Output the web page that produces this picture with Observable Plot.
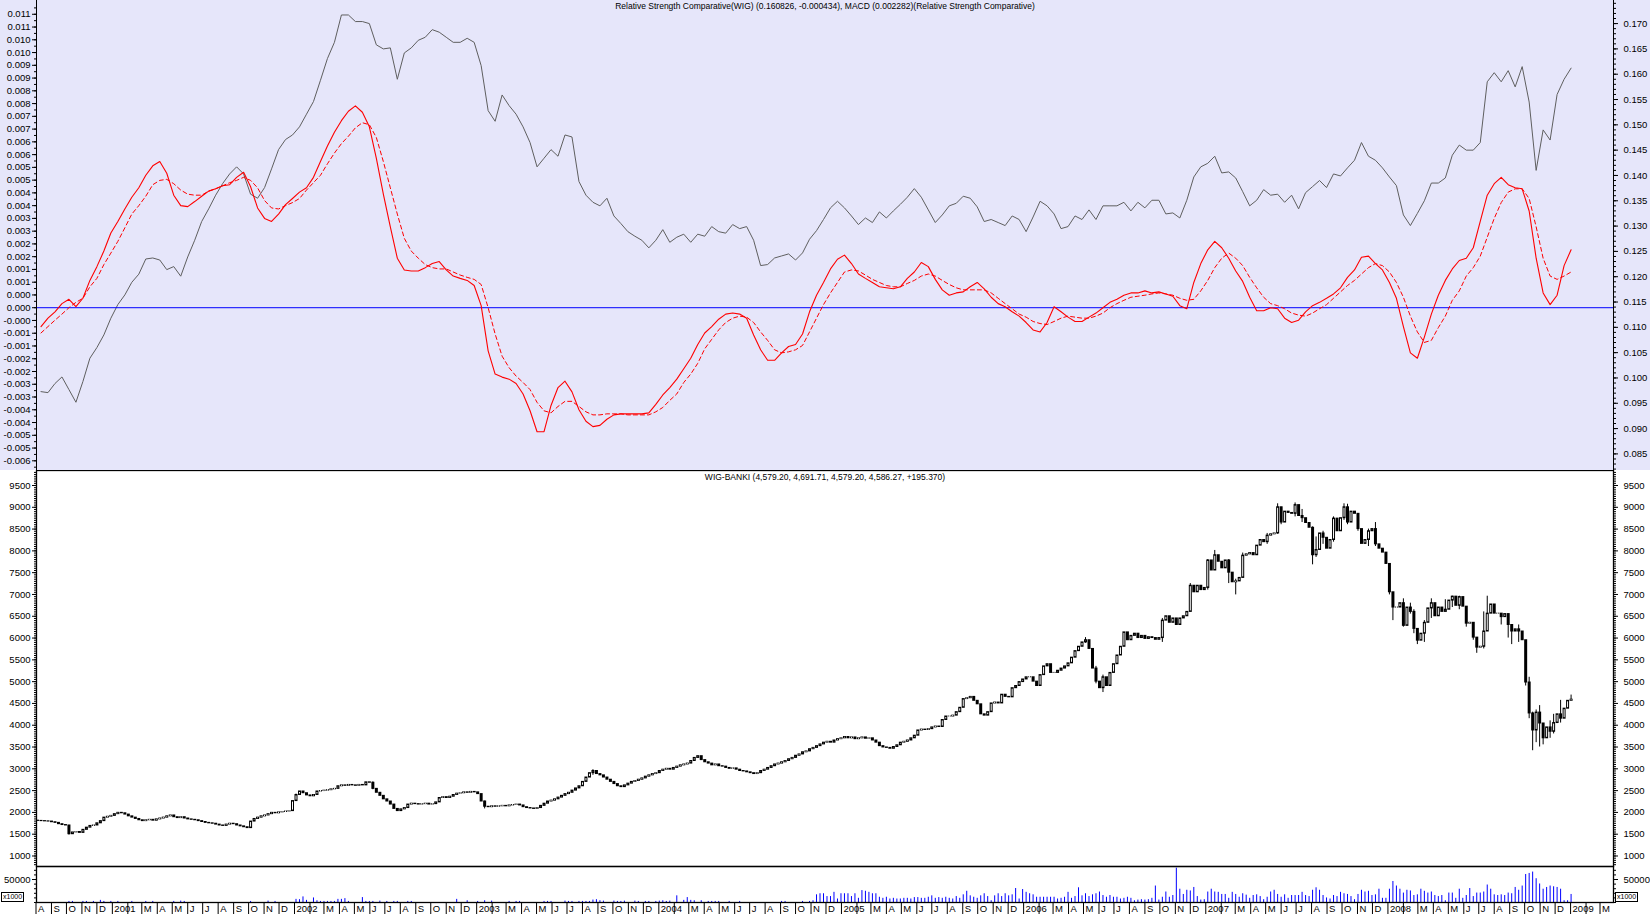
<!DOCTYPE html>
<html><head><meta charset="utf-8">
<script src="https://cdn.jsdelivr.net/npm/d3@7"></script>
<script src="https://cdn.jsdelivr.net/npm/@observablehq/plot@0.6"></script>
<style>
body{margin:0;background:#fff;}
#chart{position:relative;width:1650px;height:914px;font-family:"Liberation Sans",Arial,sans-serif;overflow:hidden;}
#chart svg{display:block;}
#top{position:relative;width:1650px;height:470px;background:#E6E6FA;}
#top svg{position:absolute;left:0;top:0;}
.box{position:absolute;font-size:7px;border:1px solid #000;line-height:8px;padding:0 1px;background:#fff;color:#000;}
</style></head>
<body>
<div id="chart">
  <div id="top"></div><div id="mid"></div><div id="vol"></div><div id="axis"></div>
  <span class="box" style="left:1px;top:892px">x1000</span>
  <span class="box" style="left:1615px;top:892px">x1000</span>
</div>
<script>
// ---------- DATA ----------
const topTitle = "Relative Strength Comparative(WIG) (0.160826, -0.000434), MACD (0.002282)(Relative Strength Comparative)";
const midTitle = "WIG-BANKI (4,579.20, 4,691.71, 4,579.20, 4,586.27, +195.370)";
const firstWeek = Date.UTC(2000, 7, 4);   // weekly bars (Fridays) from 4 Aug 2000 to 2 Jan 2009
const firstOpen = 1810;

// weekly closes of WIG-BANKI
const closes = [
 // 2000 Aug..Dec
 1805,1800,1795,1790, 1775,1760,1730,1710,1700, 1500,1540,1550,1530, 1600,1650,1690,1700, 1750,1800,1880,1900,1920,
 // 2001
 1960,1990,1980,1950, 1910,1880,1850,1820, 1800,1820,1830,1810,1840, 1860,1880,1910,1930, 1890,1870,1890,1860,
 1840,1830,1820,1800,1780, 1760,1750,1740,1720, 1700,1690,1720,1740,1730, 1700,1680,1660,1640, 1790,1850,1880,1910,
 1930,1960,1990,1980,2000, 2010,2020,2030,2260,
 // 2002
 2400,2480,2440,2390, 2370,2400,2480,2490, 2500,2510,2530,2540,2600, 2620,2610,2630,2620, 2610,2630,2620,2690,2680,
 2540,2450,2380,2300, 2250,2180,2080,2030, 2070,2100,2180,2200,2190, 2180,2190,2200,2180, 2190,2230,2330,2350,
 2330,2360,2400,2430,2440, 2460,2450,2470,2460,
 // 2003
 2420,2250,2130,2120,2140, 2130,2140,2150,2140, 2160,2170,2180,2160, 2120,2100,2090,2080, 2100,2150,2200,2250,2270,
 2300,2340,2380,2420, 2450,2500,2550,2600, 2700,2800,2900,2950,2880, 2850,2800,2750,2700, 2650,2600,2580,2620,2660,
 2700,2720,2750,2780, 2820,2850,2880,2900,
 // 2004
 2950,2980,3000,2980,3020, 3050,3080,3100,3120, 3180,3250,3290,3200, 3150,3120,3080,3100,3060, 3050,3020,3000,3010,
 2980,2950,2940,2920, 2900,2880,2900,2950,2980, 3020,3060,3100,3120, 3150,3180,3220,3250, 3300,3330,3380,3400,3450,
 3480,3520,3560,3600, 3620,3600,3650,3680,3700,
 // 2005
 3730,3700,3720,3680, 3700,3720,3690,3700, 3650,3600,3520,3490, 3480,3460,3500,3540,3600, 3620,3650,3700,3760,
 3880,3900,3890,3910, 3950,3970,3960,4120,4200, 4200,4220,4300,4400, 4600,4620,4650,4560,4480, 4250,4220,4300,4500,
 4520,4500,4700,4650, 4640,4850,4900,4990,5050,
 // 2006
 5100,5100,5000,4900, 5150,5350,5400,5200, 5200,5250,5300,5350,5420, 5550,5700,5800,5900, 5950,5750,5300,5000,
 4850,5100,4900,5200,5400, 5600,5800,6130,5950, 6050,6100,6000,6050, 5980,6020,6000,5960,6000, 6400,6500,6350,6450,
 6300,6450,6500,6600, 7200,7050,7200,7100,7150,
 // 2007
 7780,7550,7900,7750, 7600,7780,7500,7280, 7300,7380,7890,7920,7950, 7900,8120,8250,8200, 8350,8380,8400,9000,
 8650,8900,8870,8850,9050, 8800,8750,8640,8530, 7900,8020,8400,8300,8050, 8250,8740,8450,8750, 9000,8650,8900,8850,
 8500,8160,8250,8450,8500, 8150,8050,7960,7700,
 // 2008
 7050,6700,6700,6800, 6280,6700,6600,6210,5940, 6100,6350,6680,6800, 6500,6700,6600,6650, 6860,6950,6740,6940,6720,
 6330,6350,6010,5780, 5800,6150,6560,6770, 6560,6560,6480,6550,6300, 6150,6200,6150,5950, 4980,4270,3880,4290,4040,
 3700,3950,3850,4050, 4250,4150,4380,4560,
 // 2009 Jan
 4586
];

// visible wicks: [week index, low, high]
const wicks = [
 [9,1480,1640],[74,2250,2420],[96,2520,2700],[128,2080,2260],[159,2850,2980],
 [300,5880,6010],[303,4950,5350],[305,4750,5150],[322,5900,6450],[330,6750,7250],[335,7100,7800],[337,7550,8010],
 [341,7250,7800],[343,6990,7350],[345,7380,7950],[352,8150,8400],[355,8380,9080],[356,8600,9000],[360,8780,9100],
 [362,8650,8950],[365,7680,8550],[366,7850,8320],[368,8150,8450],[371,8200,8780],[374,8700,9080],[375,8600,9070],
 [378,8450,8780],[381,8100,8500],[383,8100,8650],[387,6990,7650],[388,6400,6950],[391,6250,6900],[393,6550,6800],
 [394,6100,6650],[395,5850,6100],[397,5900,6400],[399,6450,6900],[403,6650,6880],[405,6700,6960],[407,6650,6960],
 [409,6250,6600],[411,5950,6240],[412,5650,6000],[414,5750,6600],[415,6500,6960],[419,6300,6560],[421,6000,6550],
 [422,5850,6200],[424,5900,6300],[426,4900,5700],[427,4150,5100],[428,3415,4300],[429,3600,4350],[430,3500,4450],
 [431,3550,4000],[433,3700,4100],[434,3800,4250],[436,4050,4570],[439,4579,4692]
];

// weekly volume (x1000)
const volume = [
 // 2000
 0,0,0,0, 0,0,0,0,0, 2300,2300,0,0, 2300,2300,0,2300, 0,4600,2300,0,2300,
 // 2001
 0,2300,0,0, 0,2300,0,0, 0,2300,0,2300,0, 0,0,0,0, 2300,0,3000,2300, 0,0,0,0,0, 0,0,0,0, 0,0,0,0,0, 0,0,0,0,
 2300,0,0,0, 0,3000,0,2300,0, 0,0,0,0,
 // 2002
 6800,6100,12200,4600, 0,9900,3800,2300, 2300,2300,2300,2300,6800, 6800,8400,2300,0, 0,0,10700,2300,2300,
 2300,0,3000,0, 2300,0,2300,2300, 0,0,2300,2300,0, 0,0,0,0, 0,0,0,0, 0,0,0,6800,0, 0,3800,0,0,
 // 2003
 2300,0,3800,0,3000, 0,0,0,0, 2300,0,2300,2300, 0,0,0,0, 0,0,2300,2300,2300, 0,0,0,3000, 2300,2300,0,2300,
 2300,2300,2300,5300,6100, 3800,3000,0,0, 3000,2300,2300,3000,0, 0,3000,2300,0, 2300,2300,0,2300,
 // 2004
 3000,3800,2300,3000,0, 14500,0,4600,10700, 4600,3800,0,3800, 0,2300,2300,2300,2300, 0,0,2300,0, 0,2300,0,0,
 0,0,0,0,0, 0,0,0,0, 2300,2300,0,0, 0,0,2300,0,2300, 3800,16700,19000,19000, 12900,12900,22100,7600,19000,
 // 2005
 19000,19000,12900,19000, 9100,25900,24400,22100, 19000,19000,11400,9100, 11400,7600,9100,7600,7600,
 9100,9100,7600,10700, 10700,9100,9100,11400, 14500,9100,10700,9100,11400, 9100,7600,12900,9100,
 16700,24400,14500,11400,9100, 14500,19000,12900,3800, 14500,19000,12900,19000, 14500,16700,30400,7600,28200,
 // 2006
 22100,19000,16700,11400, 11400,11400,11400,11400, 11400,7600,9100,11400,22100, 9100,12900,32000,14500,
 19000,12900,16700,19000, 22800,15200,11400,15200,11400, 11400,7600,9100,11400, 9100,3800,5300,6100,
 5300,6100,9100,35800,5300, 11400,22800,11400,15200, 74600,28900,17500,26600, 25100,32700,12900,5300,6100,
 // 2007
 22800,28900,22800,22100, 17500,17500,9100,22100, 17500,11400,19000,16000,9100, 15200,16700,12900,6100,
 11400,22800,26600,17500, 11400,16700,9100,15200,15200, 15200,22100,15200,12900, 26600,32000,26600,15200,9900,
 7600,15200,12900,22100, 19000,17500,12900,6100, 17500,26600,22800,24400,15200, 16700,28900,9100,9100,
 // 2008
 28900,45700,35800,28900, 20500,26600,25100,15200,16700, 28900,24400,20500,22800, 15200,12900,15200,3800,
 20500,20500,9100,28900,9100, 15200,30400,12900,20500, 20500,22800,38000,28900, 16700,15200,16700,15200,20500,
 19000,32700,26600,35800, 60900,63200,66200,51700,40300, 28900,32700,35800,34200, 32700,28900,3800,3800,
 // 2009
 17500
];

// indicator panel, every second week (weeks 1,3,...,439)
const rsc = [
 0.0973,0.0971,0.0989,0.1002,0.0977,0.0952,0.0993,0.1039,0.1060,0.1085,
 0.1118,0.1145,0.1164,0.1189,0.1205,0.1235,0.1237,0.1233,0.1214,0.1220,
 0.1201,0.1239,0.1272,0.1309,0.1334,0.1361,0.1384,0.1403,0.1417,0.1403,
 0.1363,0.1355,0.1376,0.1413,0.1451,0.1471,0.1480,0.1496,0.1521,0.1546,
 0.1588,0.1631,0.1663,0.1717,0.1717,0.1704,0.1704,0.1700,0.1658,0.1650,
 0.1652,0.1590,0.1642,0.1652,0.1667,0.1673,0.1688,0.1683,0.1673,0.1663,
 0.1663,0.1671,0.1663,0.1617,0.1528,0.1507,0.1559,0.1538,0.1521,0.1496,
 0.1465,0.1417,0.1434,0.1451,0.1438,0.1480,0.1476,0.1388,0.1361,0.1347,
 0.1340,0.1355,0.1320,0.1305,0.1289,0.1280,0.1272,0.1257,0.1272,0.1293,
 0.1268,0.1278,0.1284,0.1268,0.1284,0.1280,0.1299,0.1289,0.1286,0.1303,
 0.1295,0.1299,0.1272,0.1222,0.1224,0.1237,0.1241,0.1245,0.1233,0.1247,
 0.1274,0.1291,0.1313,0.1336,0.1349,0.1336,0.1320,0.1303,0.1316,0.1307,
 0.1328,0.1316,0.1330,0.1343,0.1357,0.1374,0.1357,0.1332,0.1307,0.1322,
 0.1340,0.1345,0.1359,0.1355,0.1338,0.1309,0.1313,0.1307,0.1301,0.1320,
 0.1313,0.1289,0.1318,0.1349,0.1340,0.1324,0.1295,0.1299,0.1320,0.1313,
 0.1332,0.1313,0.1340,0.1340,0.1340,0.1347,0.1330,0.1347,0.1336,0.1351,
 0.1351,0.1324,0.1326,0.1316,0.1351,0.1397,0.1417,0.1424,0.1438,0.1405,
 0.1407,0.1395,0.1368,0.1340,0.1351,0.1372,0.1361,0.1363,0.1347,0.1361,
 0.1334,0.1366,0.1378,0.1390,0.1376,0.1403,0.1399,0.1415,0.1430,0.1465,
 0.1438,0.1430,0.1415,0.1397,0.1380,0.1322,0.1301,0.1325,0.1350,0.1385,
 0.1385,0.1395,0.1440,0.1460,0.1450,0.1450,0.1465,0.1585,0.1603,0.1585,
 0.1607,0.1575,0.1615,0.1545,0.1410,0.1490,0.1470,0.1560,0.1590,0.1612
];
const macd = [
 -0.00074,-0.00041,-0.00016,0.00016,0.00033,0.00004,0.00037,0.00107,0.00161,0.00222,
 0.00293,0.00338,0.00387,0.00433,0.00470,0.00519,0.00556,0.00573,0.00527,0.00441,
 0.00400,0.00396,0.00416,0.00437,0.00457,0.00466,0.00478,0.00482,0.00511,0.00531,
 0.00474,0.00391,0.00350,0.00338,0.00367,0.00404,0.00428,0.00453,0.00470,0.00511,
 0.00573,0.00634,0.00688,0.00733,0.00770,0.00791,0.00766,0.00709,0.00585,0.00445,
 0.00317,0.00194,0.00148,0.00144,0.00144,0.00157,0.00173,0.00181,0.00148,0.00124,
 0.00115,0.00107,0.00087,0.00008,-0.00169,-0.00260,-0.00272,-0.00280,-0.00297,-0.00338,
 -0.00404,-0.00486,-0.00486,-0.00383,-0.00313,-0.00288,-0.00330,-0.00400,-0.00445,-0.00466,
 -0.00461,-0.00437,-0.00420,-0.00416,-0.00416,-0.00416,-0.00416,-0.00412,-0.00379,-0.00342,
 -0.00313,-0.00280,-0.00239,-0.00198,-0.00144,-0.00099,-0.00074,-0.00045,-0.00025,-0.00021,
 -0.00025,-0.00041,-0.00107,-0.00165,-0.00206,-0.00206,-0.00177,-0.00152,-0.00144,-0.00103,
 -0.00016,0.00049,0.00099,0.00152,0.00190,0.00206,0.00173,0.00132,0.00115,0.00099,
 0.00082,0.00078,0.00074,0.00082,0.00115,0.00140,0.00177,0.00161,0.00111,0.00070,
 0.00049,0.00058,0.00062,0.00082,0.00099,0.00074,0.00041,0.00016,0.00004,-0.00016,
 -0.00033,-0.00058,-0.00087,-0.00095,-0.00058,0.00004,-0.00016,-0.00037,-0.00054,-0.00054,
 -0.00037,-0.00021,0.00000,0.00021,0.00033,0.00049,0.00058,0.00058,0.00066,0.00058,
 0.00062,0.00054,0.00045,0.00008,-0.00004,0.00099,0.00173,0.00227,0.00260,0.00235,
 0.00194,0.00144,0.00103,0.00041,-0.00012,-0.00012,0.00000,-0.00004,-0.00041,-0.00058,
 -0.00049,-0.00016,0.00008,0.00021,0.00037,0.00054,0.00078,0.00119,0.00148,0.00198,
 0.00202,0.00173,0.00148,0.00099,0.00037,-0.00074,-0.00177,-0.00198,-0.00115,-0.00025,
 0.00049,0.00107,0.00152,0.00185,0.00194,0.00235,0.00338,0.00441,0.00486,0.00511,
 0.00482,0.00470,0.00466,0.00379,0.00194,0.00058,0.00012,0.00049,0.00165,0.00227
];
const signal = [
 -0.00099,-0.00074,-0.00049,-0.00025,0.00000,0.00021,0.00037,0.00082,0.00115,0.00169,
 0.00214,0.00260,0.00313,0.00367,0.00400,0.00437,0.00482,0.00499,0.00503,0.00486,
 0.00461,0.00445,0.00441,0.00441,0.00457,0.00466,0.00478,0.00490,0.00499,0.00511,
 0.00499,0.00470,0.00420,0.00391,0.00387,0.00400,0.00412,0.00428,0.00461,0.00490,
 0.00519,0.00564,0.00606,0.00643,0.00672,0.00705,0.00725,0.00717,0.00667,0.00573,
 0.00470,0.00367,0.00272,0.00222,0.00194,0.00169,0.00157,0.00152,0.00152,0.00140,
 0.00128,0.00119,0.00111,0.00091,0.00000,-0.00103,-0.00190,-0.00235,-0.00268,-0.00293,
 -0.00321,-0.00371,-0.00404,-0.00412,-0.00387,-0.00367,-0.00367,-0.00387,-0.00408,-0.00420,
 -0.00420,-0.00416,-0.00416,-0.00416,-0.00420,-0.00420,-0.00420,-0.00420,-0.00408,-0.00391,
 -0.00363,-0.00338,-0.00293,-0.00260,-0.00218,-0.00161,-0.00124,-0.00087,-0.00058,-0.00041,
 -0.00033,-0.00037,-0.00058,-0.00095,-0.00128,-0.00165,-0.00177,-0.00173,-0.00165,-0.00148,
 -0.00095,-0.00041,0.00012,0.00058,0.00099,0.00140,0.00148,0.00144,0.00128,0.00111,
 0.00099,0.00087,0.00082,0.00082,0.00095,0.00107,0.00124,0.00132,0.00124,0.00107,
 0.00091,0.00078,0.00070,0.00070,0.00070,0.00070,0.00058,0.00037,0.00016,-0.00004,
 -0.00025,-0.00037,-0.00054,-0.00062,-0.00066,-0.00054,-0.00041,-0.00033,-0.00037,-0.00041,
 -0.00041,-0.00033,-0.00021,0.00000,0.00016,0.00029,0.00041,0.00045,0.00049,0.00054,
 0.00058,0.00054,0.00049,0.00037,0.00029,0.00033,0.00066,0.00107,0.00157,0.00194,
 0.00214,0.00194,0.00165,0.00119,0.00078,0.00041,0.00016,0.00008,-0.00004,-0.00021,
 -0.00029,-0.00033,-0.00021,-0.00004,0.00012,0.00037,0.00062,0.00087,0.00107,0.00132,
 0.00157,0.00173,0.00165,0.00140,0.00099,0.00041,-0.00033,-0.00095,-0.00136,-0.00128,
 -0.00078,-0.00033,0.00029,0.00066,0.00124,0.00157,0.00202,0.00276,0.00350,0.00412,
 0.00453,0.00466,0.00466,0.00428,0.00317,0.00194,0.00124,0.00111,0.00124,0.00140
];

// tick labels
const macdTickValues = d3.range(-12, 24).map(i => i / 2000);
const macdTickLabels = ["-0.006","-0.005","-0.005","-0.004","-0.004","-0.003","-0.003","-0.002","-0.002","-0.001","-0.001","-0.000",
  "0.000","0.000","0.001","0.001","0.002","0.002","0.003","0.003","0.004","0.004","0.005","0.005","0.006","0.006",
  "0.007","0.007","0.008","0.008","0.009","0.009","0.010","0.010","0.011","0.011"];
const rscTickLabels = ["0.085","0.090","0.095","0.100","0.105","0.110","0.115","0.120","0.125","0.130","0.135","0.140",
  "0.145","0.150","0.155","0.160","0.165","0.170"];
const priceTickLabels = ["1000","1500","2000","2500","3000","3500","4000","4500","5000","5500","6000","6500","7000",
  "7500","8000","8500","9000","9500"];
const volTickLabels = ["50000"];
const monthLetters = ["", "", "M", "A", "M", "J", "J", "A", "S", "O", "N", "D"]; // Jan shows the year, Feb label is hidden

// ---------- BUILD ----------
const W = 1650, ML = 36, MR = 37;
const FONT = "'Liberation Sans', Arial, sans-serif";
const xDomain = [new Date(Date.UTC(2000, 7, 2)), new Date(Date.UTC(2009, 2, 28))];
const weekDate = i => new Date(firstWeek + i * 7 * 86400000);
const baseStyle = {background: "transparent", fontFamily: FONT, fontSize: "9.5px", color: "#000", overflow: "visible"};
const xOpt = {type: "utc", domain: xDomain, axis: null};

const candles = closes.map((c, i) => {
  const o = i ? closes[i - 1] : firstOpen;
  return {date: weekDate(i), open: o, close: c, hi: Math.max(o, c), lo: Math.min(o, c), up: c >= o};
});
const wickData = wicks.map(([w, lo, hi]) => ({date: weekDate(w), low: lo, high: hi}));
const volData = volume.map((v, i) => ({date: weekDate(i), v})).filter(d => d.v > 0);
const lineData = rsc.map((v, k) => ({date: weekDate(2 * k + 1), rsc: v, macd: macd[k], signal: signal[k]}));

const labelMap = (vals, labels) => { const m = new Map(vals.map((v, i) => [v, labels[i]])); return d => m.get(d) ?? ""; };
const rscTickValues = rscTickLabels.map(Number);
const priceTickValues = priceTickLabels.map(Number);
const volTickValues = volTickLabels.map(Number);
const minorAxis = (anchor, ticks) => Plot.axisY({anchor, ticks, tickSize: 2, tickFormat: () => "", label: null});
const majorAxis = (anchor, ticks, labels) => Plot.axisY({anchor, ticks, tickSize: 4, tickPadding: anchor === "left" ? 2 : 6,
  tickFormat: labelMap(ticks, labels), label: null, fill: "#000"});

// top panel: RSC (right axis)
const plotB = Plot.plot({
  width: W, height: 470, marginLeft: ML, marginRight: MR, marginTop: 0, marginBottom: 0,
  style: baseStyle, x: xOpt,
  y: {domain: [0.08172, 0.17456], axis: null, label: null},
  marks: [
    minorAxis("right", d3.range(82, 175).map(i => i / 1000)),
    majorAxis("right", rscTickValues, rscTickLabels),
    Plot.line(lineData, {x: "date", y: "rsc", stroke: "#5f5f5f", strokeWidth: 1})
  ]
});
// top panel: MACD (left axis)
const plotA = Plot.plot({
  width: W, height: 470, marginLeft: ML, marginRight: MR, marginTop: 0, marginBottom: 0,
  style: baseStyle, x: xOpt,
  y: {domain: [-0.00638, 0.01204], axis: null, label: null},
  marks: [
    minorAxis("left", d3.range(-25, 48).map(i => i / 4000)),
    majorAxis("left", macdTickValues, macdTickLabels),
    Plot.ruleY([0], {stroke: "#0000ff", strokeWidth: 1}),
    Plot.line(lineData, {x: "date", y: "signal", stroke: "#ff0000", strokeWidth: 1, strokeDasharray: "4,3"}),
    Plot.line(lineData, {x: "date", y: "macd", stroke: "#ff0000", strokeWidth: 1.1}),
    Plot.ruleX(xDomain, {stroke: "#000"}),
    Plot.text([topTitle], {frameAnchor: "top", dy: 2, lineAnchor: "top", fontSize: 8.5, fill: "#000"})
  ]
});
document.getElementById("top").append(plotB, plotA);

// middle panel: candles
const plotC = Plot.plot({
  width: W, height: 396, marginLeft: ML, marginRight: MR, marginTop: 0, marginBottom: 0,
  style: baseStyle, x: xOpt,
  y: {domain: [759, 9844], axis: null, label: null},
  marks: [
    minorAxis("left", d3.range(800, 9850, 50)),
    minorAxis("right", d3.range(800, 9850, 50)),
    majorAxis("left", priceTickValues, priceTickLabels),
    majorAxis("right", priceTickValues, priceTickLabels),
    Plot.ruleX(wickData, {x: "date", y1: "high", y2: "low", stroke: "#000", strokeWidth: 1}),
    Plot.ruleX(candles, {x: "date", y1: "hi", y2: "lo", stroke: "#000", strokeWidth: 3, insetTop: -0.5, insetBottom: -0.5}),
    Plot.ruleX(candles.filter(d => d.up), {x: "date", y1: "hi", y2: "lo", stroke: "#fff", strokeWidth: 1, insetTop: 1, insetBottom: 1}),
    Plot.frame({stroke: "#000", strokeWidth: 1.3}),
    Plot.text([midTitle], {frameAnchor: "top", dy: 3, lineAnchor: "top", fontSize: 8.5, fill: "#000"})
  ]
});
document.getElementById("mid").append(plotC);

// volume panel
const plotD = Plot.plot({
  width: W, height: 36, marginLeft: ML, marginRight: MR, marginTop: 0, marginBottom: 0,
  style: baseStyle, x: xOpt,
  y: {domain: [0, 78300], axis: null, label: null},
  marks: [
    minorAxis("left", d3.range(0, 78001, 10000)),
    minorAxis("right", d3.range(0, 78001, 10000)),
    majorAxis("left", volTickValues, volTickLabels),
    majorAxis("right", volTickValues, volTickLabels),
    Plot.ruleX(volData, {x: "date", y1: 0, y2: "v", stroke: "#0000ff", strokeWidth: 1}),
    Plot.frame({stroke: "#000", strokeWidth: 1.3})
  ]
});
document.getElementById("vol").append(plotD);

// month axis strip
const months = d3.utcMonth.range(new Date(Date.UTC(2000, 7, 1)), new Date(Date.UTC(2009, 3, 1)));
const monthLabel = d => d.getUTCMonth() === 0 ? String(d.getUTCFullYear()) : monthLetters[d.getUTCMonth()];
const plotE = Plot.plot({
  width: W, height: 12, marginLeft: ML, marginRight: MR, marginTop: 0, marginBottom: 0,
  style: baseStyle, x: xOpt,
  marks: [
    Plot.text(months, {x: d => d, text: monthLabel, textAnchor: "start", dx: 2, dy: 0.5, frameAnchor: "middle", fontSize: 9.5, fill: "#000"}),
    Plot.tickX(months, {x: d => d, stroke: "#000", strokeWidth: 1})
  ]
});
document.getElementById("axis").append(plotE);
</script>
</body></html>
